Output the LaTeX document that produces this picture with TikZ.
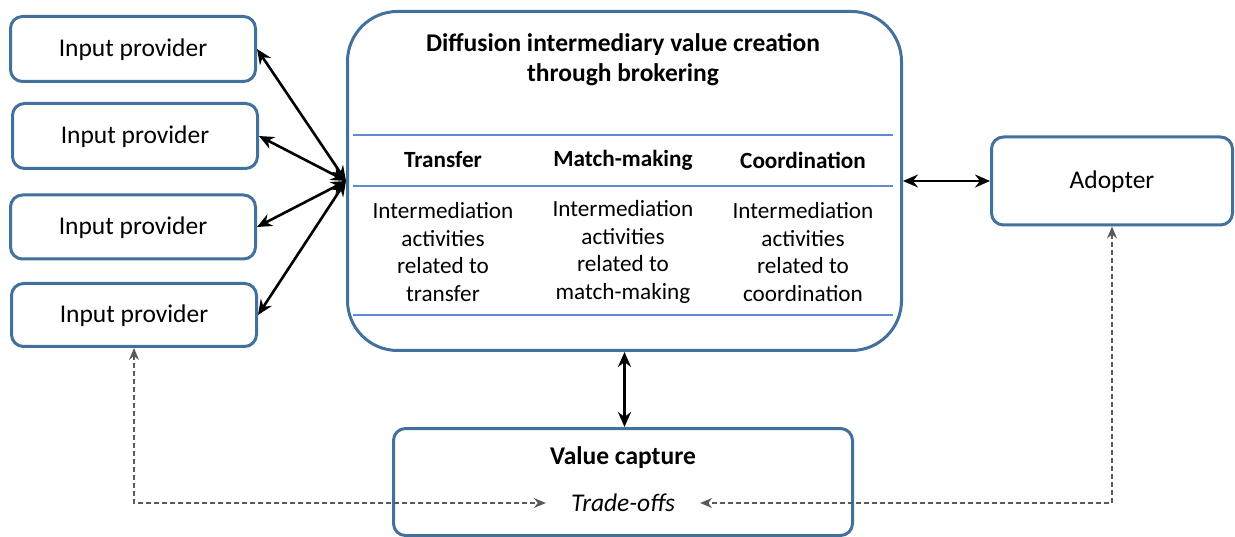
\documentclass[tikz,border=0pt]{standalone}
\usepackage{fontspec}
\setmainfont{Carlito}
\usetikzlibrary{positioning,calc,arrows.meta}
\tikzset{>={Stealth[length=15pt,width=13pt,inset=5pt]}}
\definecolor{boxblue}{RGB}{65,113,156}
\definecolor{lineblue}{RGB}{96,138,210}
\definecolor{dashgray}{RGB}{90,90,90}
\tikzset{
  box/.style={draw=boxblue,line width=3pt,rounded corners=12pt,align=center,
    font=\fontsize{25.5}{27.5}\selectfont},
  txt/.style={align=center,inner sep=0pt,font=\fontsize{23.2}{27.5}\selectfont},
  link/.style={<->,line width=2.6pt},
  dlink/.style={{Stealth[length=12pt,width=10pt,inset=4pt]}-{Stealth[length=12pt,width=10pt,inset=4pt]},
    dashgray,line width=1.4pt,dash pattern=on 5pt off 3pt}
}

\begin{document}
\begin{tikzpicture}[x=1pt,y=-1pt]
\useasboundingbox (0,0) rectangle (1235,537);
% input providers
\node[box,minimum width=245pt,minimum height=65pt,text depth=3pt] (ip1) at (133,49) {Input provider};
\node[box,minimum width=245pt,minimum height=65pt,text depth=3pt] (ip2) at (135,136) {Input provider};
\node[box,minimum width=245pt,minimum height=64pt,text depth=3pt] (ip3) at (133,227) {Input provider};
\node[box,minimum width=245pt,minimum height=63pt,text depth=3pt] (ip4) at (134,315) {Input provider};
% brokering box
\node[box,rounded corners=50pt,minimum width=554pt,minimum height=339pt] (main) at (624.5,181) {};
\node[txt,font=\fontsize{25.5}{30}\selectfont\bfseries] (title) at (623,60)
  {Diffusion intermediary value creation\\through brokering};
\draw[lineblue,line width=2pt] (353,135) -- (893,135);
\draw[lineblue,line width=2pt] (353,186) -- (893,186);
\draw[lineblue,line width=2pt] (353,315) -- (893,315);
\node[txt,font=\fontsize{23.2}{27.5}\selectfont\bfseries] (h1) at (443,160) {Transfer};
\node[txt,font=\fontsize{23.2}{27.5}\selectfont\bfseries] (h2) at (623,160) {Match-making};
\node[txt,font=\fontsize{23.2}{27.5}\selectfont\bfseries] (h3) at (803,160) {Coordination};
\node[txt] (b1) at (443,252) {Intermediation\\activities\\related to\\transfer};
\node[txt] (b2) at (623,252) {Intermediation\\activities\\related to\\match-making};
\node[txt] (b3) at (803,252) {Intermediation\\activities\\related to\\coordination};
% adopter and value capture
\node[box,minimum width=241pt,minimum height=88pt,text depth=3pt] (adopter) at (1112,181) {Adopter};
\node[box,minimum width=459pt,minimum height=107pt] (vc) at (623,482) {};
\node[txt,font=\fontsize{25.5}{27.5}\selectfont\bfseries] (vctitle) at (623,458) {Value capture};
\node[txt,font=\fontsize{25.5}{27.5}\selectfont\itshape] (trade) at (623,503) {Trade-offs};
% links
\foreach \i in {1,...,4}
  \draw[link] (main.west) -- (ip\i.east);
\draw[link] (main.east) -- (main.east -| adopter.west);
\draw[link] (main.south) -- (main.south |- vc.north);
\draw[dlink] (ip4.south) |- ([xshift=-25pt]trade.west);
\draw[dlink] (adopter.south) |- ([xshift=25pt]trade.east);
\end{tikzpicture}
\end{document}
